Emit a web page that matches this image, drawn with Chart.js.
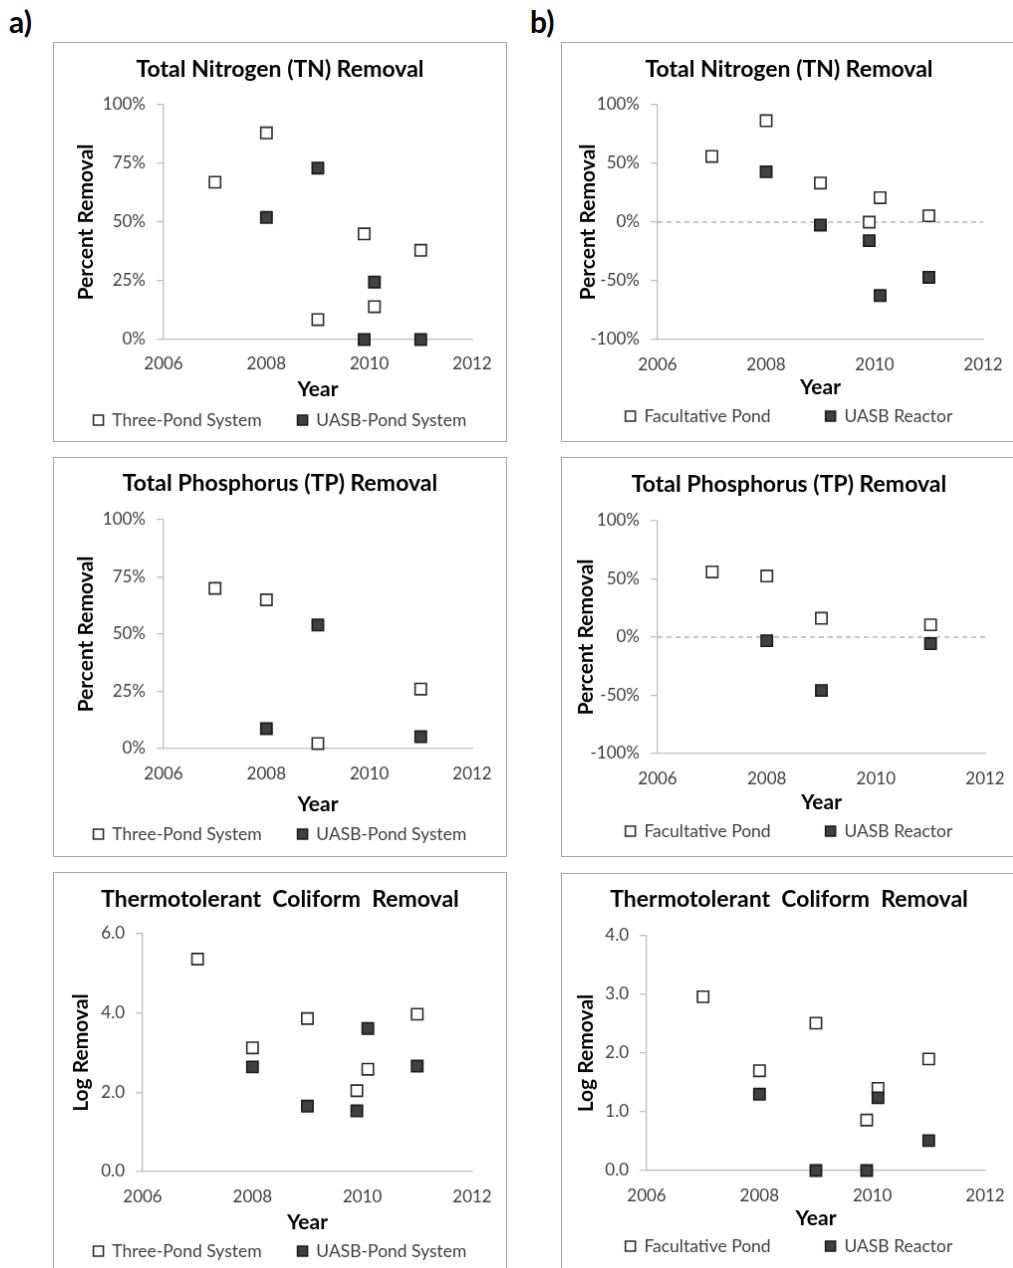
<!DOCTYPE html>
<html>
<head>
<meta charset="UTF-8">
<title>Removal charts</title>
<script src="https://cdn.jsdelivr.net/npm/chart.js@4.4.0/dist/chart.umd.min.js"></script>
<style>
  html, body { margin: 0; padding: 0; background: #fff; overflow: hidden; }
  body { position: relative; width: 1013px; height: 1268px; }
  .lbl { position: absolute; font: bold 30px Lato, sans-serif; line-height: 1; color: #000; }
  canvas { position: absolute; border: 1px solid #a6a6a6; }
</style>
</head>
<body>
<div class="lbl" style="left:9px;top:6px">a)</div>
<div class="lbl" style="left:530px;top:6px">b)</div>
<script>
// data
const years = [2007, 2008, 2009, 2009.9, 2010.1, 2011];
const xTicks = [2006, 2008, 2010, 2012];
const zeroLine = [2006, 2012];

const seriesA = ['Three-Pond System', 'UASB-Pond System'];
const seriesB = ['Facultative Pond', 'UASB Reactor'];

// a) percent / log removal
const threePondTN = [67, 88, 8.5, 45, 14, 38];
const uasbPondTN = [null, 52, 73, 0, 24.5, 0];
const threePondTP = [70, 65, 2.2, null, null, 26];
const uasbPondTP = [null, 8.7, 54, null, null, 5.2];
const threePondTC = [5.36, 3.12, 3.86, 2.04, 2.58, 3.97];
const uasbPondTC = [null, 2.64, 1.65, 1.53, 3.61, 2.66];

// b) percent / log removal
const facultTN = [56, 86.4, 33.3, 0, 20.8, 5.4];
const uasbTN = [null, 42.9, -2.5, -15.8, -62.5, -47];
const facultTP = [56, 52.5, 16.2, null, null, 10.6];
const uasbTP = [null, -3.1, -45.8, null, null, -5.6];
const facultTC = [2.96, 1.70, 2.51, 0.86, 1.40, 1.90];
const uasbTC = [null, 1.30, 0, 0, 1.24, 0.51];

const pctTicksA = [0, 25, 50, 75, 100];
const pctTicksB = [-100, -50, 0, 50, 100];
const logTicksA = [0, 2, 4, 6];
const logTicksB = [0, 1, 2, 3, 4];

const FONT = 'Lato, sans-serif';
const pct = v => v + '%';
const dec = v => v.toFixed(1);

const panels = [
  {left: 53, top: 42, W: 454, title: 'Total Nitrogen (TN) Removal', names: seriesA, open: threePondTN, filled: uasbPondTN,
   yTicks: pctTicksA, fmt: pct, yTitle: 'Percent Removal', zero: false,
   L: 110, R: 420, T: 62, B: 298, titleY: 27, tickY: 323, yearY: 348, legendY: 379, yTitleX: 32, gap: 36},
  {left: 561, top: 42, W: 456, title: 'Total Nitrogen (TN) Removal', names: seriesB, open: facultTN, filled: uasbTN,
   yTicks: pctTicksB, fmt: pct, yTitle: 'Percent Removal', zero: true,
   L: 96, R: 423, T: 62, B: 298, titleY: 27, tickY: 324, yearY: 346, legendY: 375, yTitleX: 26, gap: 55},
  {left: 53, top: 457, W: 454, title: 'Total Phosphorus (TP) Removal', names: seriesA, open: threePondTP, filled: uasbPondTP,
   yTicks: pctTicksA, fmt: pct, yTitle: 'Percent Removal', zero: false,
   L: 110, R: 420, T: 62, B: 292, titleY: 26, tickY: 318, yearY: 348, legendY: 378, yTitleX: 32, gap: 36},
  {left: 561, top: 457, W: 456, title: 'Total Phosphorus (TP) Removal', names: seriesB, open: facultTP, filled: uasbTP,
   yTicks: pctTicksB, fmt: pct, yTitle: 'Percent Removal', zero: true,
   L: 96, R: 425, T: 63, B: 297, titleY: 27, tickY: 323, yearY: 346, legendY: 375, yTitleX: 24, gap: 55},
  {left: 53, top: 872, W: 454, title: 'Thermotolerant  Coliform  Removal', names: seriesA, open: threePondTC, filled: uasbPondTC,
   yTicks: logTicksA, fmt: dec, yTitle: 'Log Removal', zero: false,
   L: 89, R: 420, T: 61, B: 300, titleY: 27, tickY: 326, yearY: 351, legendY: 380, yTitleX: 27, gap: 36},
  {left: 561, top: 873, W: 456, title: 'Thermotolerant  Coliform  Removal', names: seriesB, open: facultTC, filled: uasbTC,
   yTicks: logTicksB, fmt: dec, yTitle: 'Log Removal', zero: false,
   L: 85, R: 425, T: 62, B: 298, titleY: 26, tickY: 324, yearY: 346, legendY: 374, yTitleX: 24, gap: 55}
];

function toPoints(xs, ys) {
  const out = [];
  xs.forEach((x, i) => { if (ys[i] !== null) out.push({x: x, y: ys[i]}); });
  return out;
}

// keep the two legend items on one row with a wide gap, and place the row
// independently of the legend box that the layout reserves
function legendFit(h, dy) {
  return {
    id: 'legendFit',
    beforeInit(chart) {
      const lg = chart.legend;
      const fit = lg.fit;
      const draw = lg.draw;
      lg.fit = function () {
        const mw = this.maxWidth;
        this.maxWidth = mw + 300;
        fit.call(this);
        this.maxWidth = mw;
        this.width = mw;
        this.height = h;
      };
      lg.draw = function () {
        const t = this.top, l = this.left, r = this.right;
        this.top = t + dy; this.left = l - 150; this.right = r + 150;
        draw.call(this);
        this.top = t; this.left = l; this.right = r;
      };
    }
  };
}

function makeChart(p) {
  const H = 400;
  const lf = 17.5, tf = 17, titleF = 23, axF = 21;
  const boxTop = p.tickY + 14;           // legend box starts under the tick labels
  const legendH = H - boxTop;
  const hx = boxTop - p.B;
  const dy = (p.legendY - lf / 2 - p.gap) - boxTop;

  const canvas = document.createElement('canvas');
  canvas.width = p.W;
  canvas.height = H;
  canvas.style.left = p.left + 'px';
  canvas.style.top = p.top + 'px';
  document.body.appendChild(canvas);

  const datasets = [];
  if (p.zero) {
    datasets.push({type: 'line', label: 'zero', data: zeroLine.map(x => ({x: x, y: 0})),
      borderColor: '#8f8f8f', borderWidth: 1.2, borderDash: [5, 4], pointRadius: 0, order: 3, clip: false});
  }
  datasets.push({label: p.names[0], data: toPoints(years, p.open), pointStyle: 'rect',
    pointRadius: 8, pointHoverRadius: 8, backgroundColor: '#ffffff', borderColor: '#2b2b2b', borderWidth: 1.6, order: 2, clip: false});
  datasets.push({label: p.names[1], data: toPoints(years, p.filled), pointStyle: 'rect',
    pointRadius: 8, pointHoverRadius: 8, backgroundColor: '#404040', borderColor: '#1a1a1a', borderWidth: 1.6, order: 1, clip: false});

  new Chart(canvas, {
    type: 'scatter',
    data: {datasets: datasets},
    options: {
      responsive: false,
      animation: false,
      devicePixelRatio: 1,
      layout: {padding: 0},
      plugins: {
        title: {display: true, text: p.title, color: '#000',
          font: {family: FONT, size: titleF, weight: 'bold', lineHeight: 1.2},
          padding: {top: p.titleY - titleF * 0.6, bottom: p.T - p.titleY - titleF * 0.6}},
        legend: {position: 'bottom',
          labels: {filter: it => it.text !== 'zero', sort: (a, b) => a.datasetIndex - b.datasetIndex,
            color: '#404040', font: {family: FONT, size: lf}, padding: p.gap, boxWidth: 10, boxHeight: 10}},
        tooltip: {enabled: false}
      },
      scales: {
        x: {type: 'linear', min: xTicks[0], max: xTicks[xTicks.length - 1],
          afterBuildTicks: s => { s.ticks = xTicks.map(v => ({value: v})); },
          ticks: {color: '#404040', font: {family: FONT, size: tf, lineHeight: 1.2}, padding: p.tickY - p.B - tf * 0.6,
            callback: v => String(v), maxRotation: 0, autoSkip: false},
          grid: {display: false, drawTicks: false},
          border: {color: '#bfbfbf', width: 1.3},
          title: {display: true, text: 'Year', color: '#000', font: {family: FONT, size: axF, weight: 'bold', lineHeight: 1.2},
            padding: {top: 0, bottom: boxTop - p.yearY - axF * 0.6}},
          afterFit: s => { s.height = hx; s.paddingRight = p.W - p.R; }
        },
        y: {min: p.yTicks[0], max: p.yTicks[p.yTicks.length - 1],
          afterBuildTicks: s => { s.ticks = p.yTicks.map(v => ({value: v})); },
          ticks: {color: '#404040', font: {family: FONT, size: tf}, padding: 11, callback: p.fmt},
          grid: {display: true, drawOnChartArea: false, drawTicks: true, tickLength: 7, color: '#bfbfbf', lineWidth: 1.3},
          border: {color: '#bfbfbf', width: 1.3},
          title: {display: true, text: p.yTitle, color: '#000', font: {family: FONT, size: axF, weight: 'bold', lineHeight: 1.2},
            padding: {top: p.yTitleX - axF * 0.6, bottom: 0}},
          afterFit: s => { s.width = p.L; }
        }
      }
    },
    plugins: [legendFit(legendH, dy)]
  });
}

panels.forEach(makeChart);
</script>
</body>
</html>
